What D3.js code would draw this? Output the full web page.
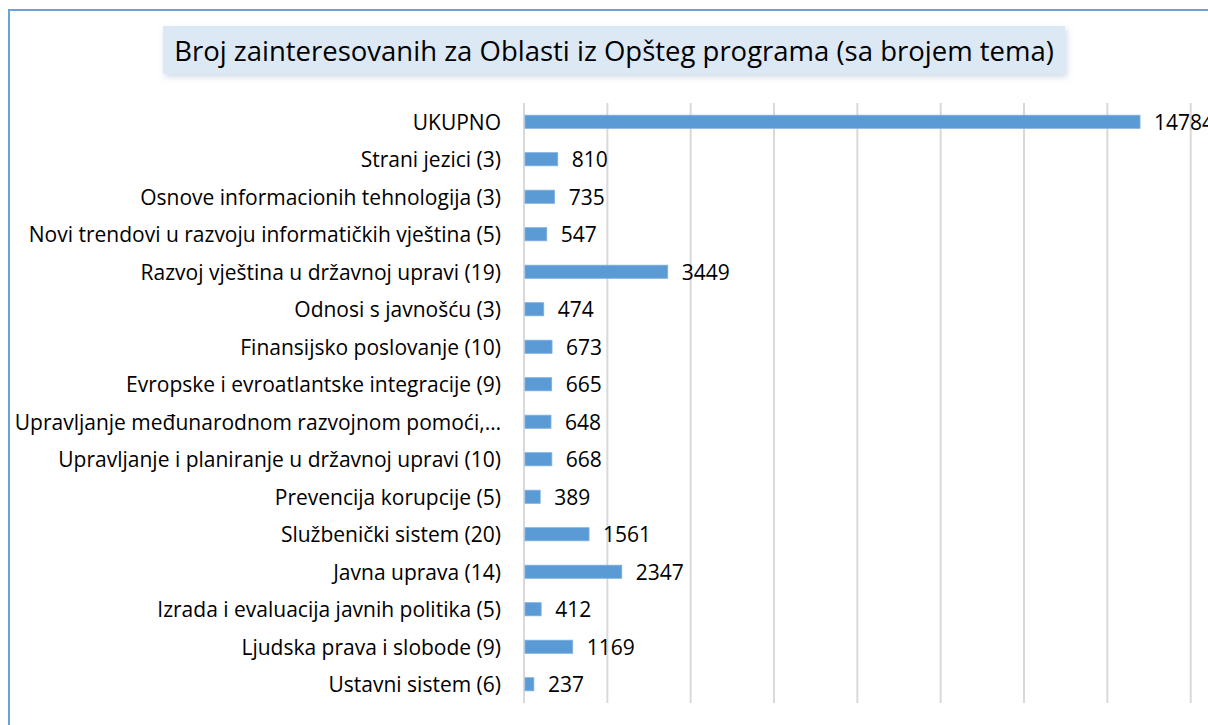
<!DOCTYPE html>
<html>
<head>
<meta charset="utf-8">
<script src="https://cdn.jsdelivr.net/npm/d3@7"></script>
<style>
  html, body { margin: 0; padding: 0; background: #fff; }
  svg { display: block; }
</style>
</head>
<body>
<svg></svg>
<script>
const width = 1208;
const height = 725;

const title = 'Broj zainteresovanih za Oblasti iz Opšteg programa (sa brojem tema)';

// top to bottom, as shown
const categories = [
    'UKUPNO',
    'Strani jezici (3)',
    'Osnove informacionih tehnologija (3)',
    'Novi trendovi u razvoju informatičkih vještina (5)',
    'Razvoj vještina u državnoj upravi (19)',
    'Odnosi s javnošću (3)',
    'Finansijsko poslovanje (10)',
    'Evropske i evroatlantske integracije (9)',
    'Upravljanje međunarodnom razvojnom pomoći,…',
    'Upravljanje i planiranje u državnoj upravi (10)',
    'Prevencija korupcije (5)',
    'Službenički sistem (20)',
    'Javna uprava (14)',
    'Izrada i evaluacija javnih politika (5)',
    'Ljudska prava i slobode (9)',
    'Ustavni sistem (6)'
];
const values = [14784, 810, 735, 547, 3449, 474, 673, 665, 648, 668, 389, 1561, 2347, 412, 1169, 237];
const gridTicks = [0, 2000, 4000, 6000, 8000, 10000, 12000, 14000, 16000];

const plot = { left: 524, right: 1190.7, top: 103, bottom: 703 };
const font = '"Open Sans", sans-serif';

const svg = d3.select('svg').attr('width', width).attr('height', height);

const defs = svg.append('defs');
defs.append('filter').attr('id', 'shadow')
    .attr('x', '-5%').attr('y', '-30%').attr('width', '110%').attr('height', '170%')
    .append('feDropShadow')
    .attr('dx', 2).attr('dy', 3).attr('stdDeviation', 3)
    .attr('flood-color', '#9fb6cf').attr('flood-opacity', 0.5);

// outer chart border (runs off the right / bottom of the picture)
svg.append('rect')
    .attr('x', 9).attr('y', 10)
    .attr('width', width + 20).attr('height', height + 20)
    .attr('fill', 'none')
    .attr('stroke', '#6fa0d8')
    .attr('stroke-width', 2);

// title box
svg.append('rect')
    .attr('x', 163).attr('y', 26)
    .attr('width', 1065 - 163).attr('height', 48)
    .attr('fill', '#dde8f5')
    .attr('filter', 'url(#shadow)');

svg.append('text')
    .attr('x', 614).attr('y', 61)
    .attr('text-anchor', 'middle')
    .attr('font-family', font)
    .attr('font-size', 27.5)
    .attr('fill', '#000')
    .text(title);

const x = d3.scaleLinear()
    .domain([0, 16000])
    .range([plot.left, plot.right]);

const y = d3.scaleBand()
    .domain(categories)
    .range([plot.top, plot.bottom])
    .paddingInner(0.65)
    .paddingOuter(0.325);

// vertical gridlines
svg.append('g').selectAll('line').data(gridTicks)
    .enter().append('line')
    .attr('x1', d => x(d)).attr('x2', d => x(d))
    .attr('y1', plot.top).attr('y2', plot.bottom)
    .attr('stroke', '#d9d9d9')
    .attr('stroke-width', 2);

// bars
svg.append('g').selectAll('rect').data(values)
    .enter().append('rect')
    .attr('x', x(0) + 1)
    .attr('y', (d, i) => y(categories[i]))
    .attr('width', d => x(d) - x(0) - 1)
    .attr('height', y.bandwidth())
    .attr('fill', '#5b9bd5')
    .attr('stroke', '#7fb0e0')
    .attr('stroke-width', 0.8);

// value labels
svg.append('g').selectAll('text').data(values)
    .enter().append('text')
    .attr('x', d => x(d) + 14)
    .attr('y', (d, i) => y(categories[i]) + y.bandwidth() / 2)
    .attr('dy', '0.38em')
    .attr('font-family', font)
    .attr('font-size', 21)
    .attr('fill', '#000')
    .text(d => d);

// category labels
svg.append('g').selectAll('text').data(categories)
    .enter().append('text')
    .attr('x', 501)
    .attr('y', d => y(d) + y.bandwidth() / 2)
    .attr('dy', '0.38em')
    .attr('text-anchor', 'end')
    .attr('font-family', font)
    .attr('font-size', 21)
    .attr('fill', '#000')
    .text(d => d);
</script>
</body>
</html>
